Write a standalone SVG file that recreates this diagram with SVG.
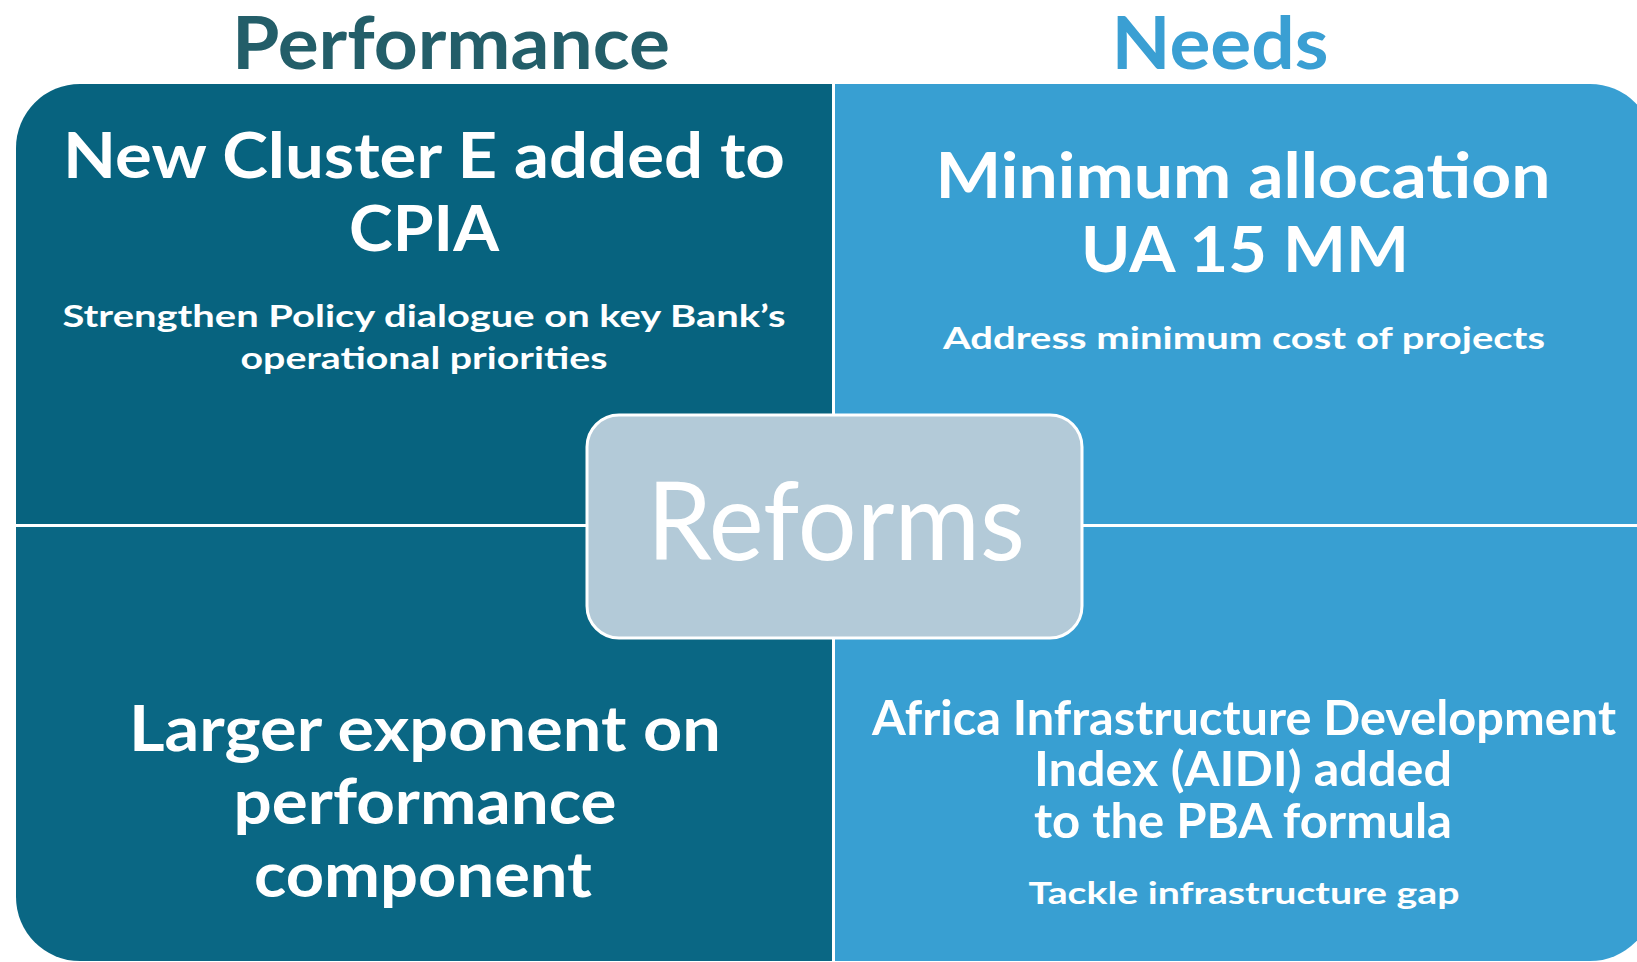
<svg xmlns="http://www.w3.org/2000/svg" width="1637" height="962" viewBox="0 0 1637 962">
<style>
text { font-family: Lato, "Liberation Sans", sans-serif; text-anchor: middle; }
.w { fill: #ffffff; font-weight: 700; }
.big { font-size: 63px; }
.mid { font-size: 48px; }
.sm { font-size: 31px; }
.hdr { font-size: 72px; font-weight: 700; }
</style>
<rect x="0" y="0" width="1637" height="962" fill="#ffffff"/>
<g id="header-performance"><text class="hdr" x="451" y="69" fill="#235E69" textLength="438" lengthAdjust="spacingAndGlyphs">Performance</text></g>
<g id="header-needs"><text class="hdr" x="1220" y="69" fill="#3A9FD3" textLength="217" lengthAdjust="spacingAndGlyphs">Needs</text></g>
<g id="quadrant-tl">
<path d="M16,148 A64,64 0 0 1 80,84 L832,84 L832,524 L16,524 Z" fill="#07637F"/>
<text class="w big" x="424" y="178" textLength="722" lengthAdjust="spacingAndGlyphs">New Cluster E added to</text>
<text class="w big" x="424" y="251" textLength="150" lengthAdjust="spacingAndGlyphs">CPIA</text>
<text class="w sm" x="424" y="327" textLength="723" lengthAdjust="spacingAndGlyphs">Strengthen Policy dialogue on key Bank’s</text>
<text class="w sm" x="424" y="369" textLength="367" lengthAdjust="spacingAndGlyphs">operational priorities</text>
</g>
<g id="quadrant-tr">
<path d="M835,84 L1590,84 A64,64 0 0 1 1654,148 L1654,524 L835,524 Z" fill="#389FD2"/>
<text class="w big" x="1243" y="198" textLength="615" lengthAdjust="spacingAndGlyphs">Minimum allocation</text>
<text class="w big" x="1245" y="272" textLength="328" lengthAdjust="spacingAndGlyphs">UA 15 MM</text>
<text class="w sm" x="1244" y="349" textLength="602" lengthAdjust="spacingAndGlyphs">Address minimum cost of projects</text>
</g>
<g id="quadrant-bl">
<path d="M16,527 L832,527 L832,961 L80,961 A64,64 0 0 1 16,897 Z" fill="#0A6784"/>
<text class="w big" x="425" y="751" textLength="592" lengthAdjust="spacingAndGlyphs">Larger exponent on</text>
<text class="w big" x="425" y="824" textLength="383" lengthAdjust="spacingAndGlyphs">performance</text>
<text class="w big" x="423" y="897" textLength="338" lengthAdjust="spacingAndGlyphs">component</text>
</g>
<g id="quadrant-br">
<path d="M835,527 L1654,527 L1654,897 A64,64 0 0 1 1590,961 L835,961 Z" fill="#389FD2"/>
<text class="w mid" x="1244" y="735" textLength="744" lengthAdjust="spacingAndGlyphs">Africa Infrastructure Development</text>
<text class="w mid" x="1243" y="786" textLength="418" lengthAdjust="spacingAndGlyphs">Index (AIDI) added</text>
<text class="w mid" x="1243" y="838" textLength="418" lengthAdjust="spacingAndGlyphs">to the PBA formula</text>
<text class="w sm" x="1244" y="904" textLength="431" lengthAdjust="spacingAndGlyphs">Tackle infrastructure gap</text>
</g>
<g id="center-reforms">
<rect x="587" y="415" width="495" height="223" rx="32" ry="32" fill="#B3CAD8" stroke="#ffffff" stroke-width="3"/>
<text x="836" y="560" fill="#ffffff" font-size="108" font-weight="400" textLength="378" lengthAdjust="spacingAndGlyphs">Reforms</text>
</g>
</svg>
